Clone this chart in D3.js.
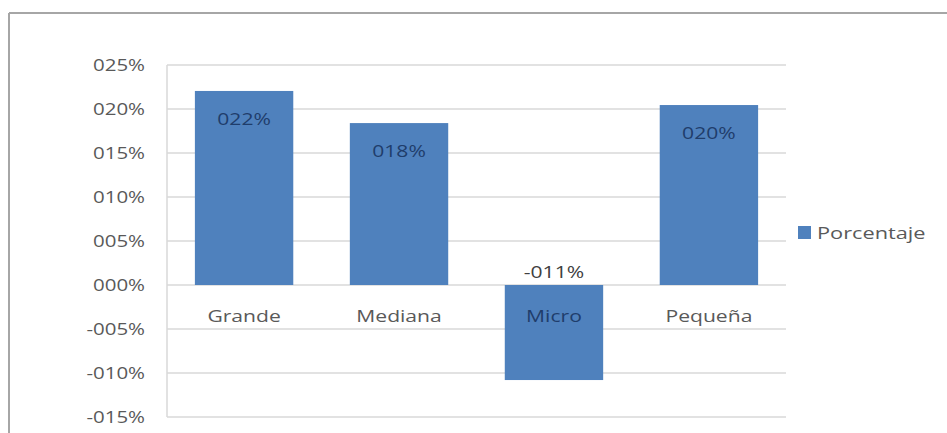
<!DOCTYPE html>
<html><head><meta charset="utf-8">
<script src="https://cdn.jsdelivr.net/npm/d3@7"></script>
<style>body{margin:0;background:#fff}svg{display:block}text{font-family:"Open Sans","Noto Sans",sans-serif}</style>
</head><body>
<script>
const categories = ["Grande", "Mediana", "Micro", "Pequeña"];
const values = [0.2205, 0.184, -0.108, 0.2045];
const yTicks = [-0.15, -0.10, -0.05, 0, 0.05, 0.10, 0.15, 0.20, 0.25];
const seriesName = "Porcentaje";
const titleText = "2009 - 2010";

const W = 947, H = 433;
const SX = 1.28; // horizontal stretch of the reference image's text
const svg = d3.select("body").append("svg").attr("width", W).attr("height", H);

// title (cut off at top, as in the reference)
svg.append("clipPath").attr("id","tc").append("rect").attr("x",0).attr("y",14).attr("width",W).attr("height",30);
svg.append("text").attr("transform", `translate(482,27) scale(${SX},1)`).attr("text-anchor","middle")
  .attr("font-size", 28).attr("font-weight","bold").attr("fill","#dcdcdc")
  .attr("clip-path","url(#tc)").text(titleText);
// outer chart frame (top and left visible)
svg.append("line").attr("x1",9).attr("x2",W).attr("y1",13).attr("y2",13).attr("stroke","#a6a6a6").attr("stroke-width",2);
svg.append("line").attr("x1",9).attr("x2",9).attr("y1",13).attr("y2",H).attr("stroke","#a6a6a6").attr("stroke-width",2);

const left = 167, right = 786;
const y = d3.scaleLinear().domain([-0.15, 0.25]).range([417, 65]);
const x = d3.scaleBand().domain(categories).range([left, right]).paddingInner(0.365).paddingOuter(0.18);

const fmt = v => (v < 0 ? "-" : "") + String(Math.round(Math.abs(v) * 100)).padStart(3, "0") + "%";

// gridlines
svg.append("g").selectAll("line").data(yTicks).join("line")
  .attr("x1", left).attr("x2", right)
  .attr("y1", d => y(d)).attr("y2", d => y(d))
  .attr("stroke", "#d9d9d9").attr("stroke-width", 1.5);
svg.append("line").attr("x1",left).attr("x2",left).attr("y1",y(0.25)).attr("y2",y(-0.15)).attr("stroke","#d9d9d9").attr("stroke-width",1.5);

// y axis
const yAxis = d3.axisLeft(y).tickValues(yTicks).tickFormat(fmt).tickSize(0).tickPadding(0);
const ga = svg.append("g").attr("transform", `translate(145,0)`).call(yAxis);
ga.select(".domain").remove();
ga.selectAll("text").attr("font-size", 16).attr("fill", "#595959")
  .attr("font-family", "'Open Sans','Noto Sans',sans-serif")
  .attr("transform", `scale(${SX},1)`);

// bars
svg.append("g").selectAll("rect").data(values).join("rect")
  .attr("x", (d, i) => x(categories[i]))
  .attr("width", x.bandwidth())
  .attr("y", d => y(Math.max(0, d)))
  .attr("height", d => Math.abs(y(d) - y(0)))
  .attr("fill", "#4f81bd");

// category labels
svg.append("g").selectAll("text").data(categories).join("text")
  .attr("transform", d => `translate(${x(d) + x.bandwidth() / 2},${y(0) + 37}) scale(${SX},1)`)
  .attr("text-anchor", "middle").attr("font-size", 16.5)
  .attr("fill", (d, i) => values[i] < 0 ? "#1f3d6b" : "#595959")
  .text(d => d);

// data labels
svg.append("g").selectAll("text").data(values).join("text")
  .attr("transform", (d, i) => `translate(${x(categories[i]) + x.bandwidth() / 2},${d >= 0 ? y(d) + 34 : y(0) - 7}) scale(${SX},1)`)
  .attr("text-anchor", "middle").attr("font-size", 16.5)
  .attr("fill", d => d >= 0 ? "#1f3d6b" : "#404040")
  .text(fmt);

// legend
svg.append("rect").attr("x", 798).attr("y", 226).attr("width", 13).attr("height", 13).attr("fill", "#4f81bd");
svg.append("text").attr("transform", `translate(817,239) scale(${SX},1)`).attr("font-size", 17).attr("fill", "#595959").text(seriesName);
</script>
</body></html>
